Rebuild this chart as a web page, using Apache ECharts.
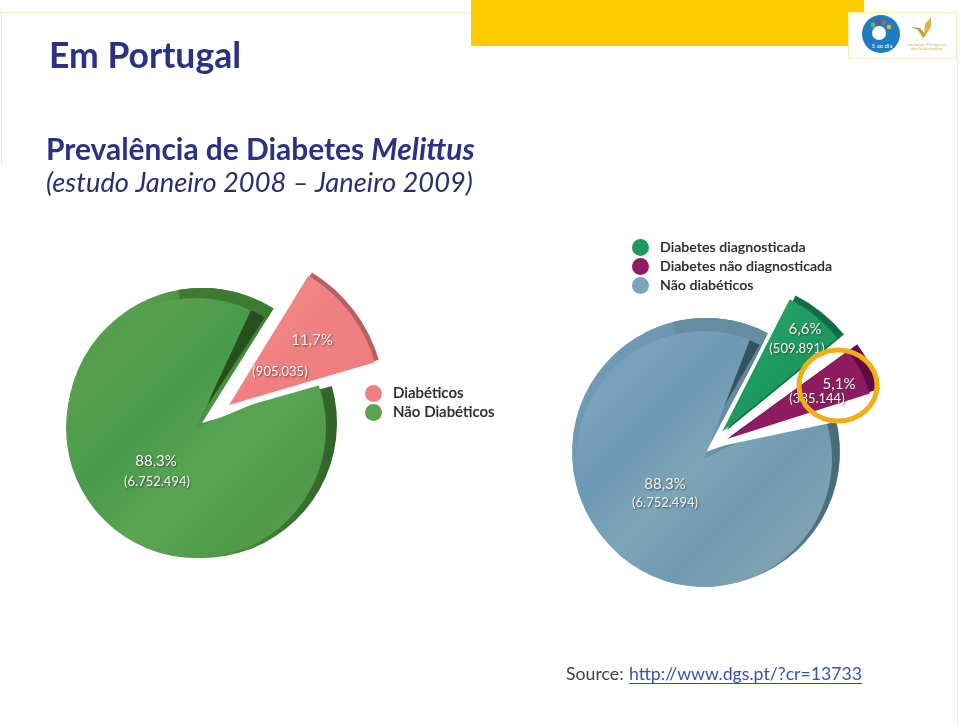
<!DOCTYPE html>
<html><head><meta charset="utf-8">
<style>html,body{margin:0;padding:0;background:#fff}#c{width:960px;height:725px}</style>
<script src="https://cdn.jsdelivr.net/npm/echarts@6/dist/echarts.min.js"></script>
</head><body><div id="c"></div>
<script>
const leftNames = ['Diabéticos', 'Não Diabéticos'];
const leftShares = [11.7, 88.3];
const leftLabels = [['11,7%', '(905.035)'], ['88,3%', '(6.752.494)']];
const rightNames = ['Diabetes diagnosticada', 'Diabetes não diagnosticada', 'Não diabéticos'];
const rightShares = [6.6, 5.1, 88.3];
const rightLabels = [['6,6%', '(509.891)'], ['5,1%', '(385.144)'], ['88,3%', '(6.752.494)']];
const headline = 'Em Portugal';
const subBold = 'Prevalência de Diabetes ';
const subItalic = 'Melittus';
const subPeriod = '(estudo Janeiro 2008 – Janeiro 2009)';
const sourceLabel = 'Source:';
const sourceLink = 'http://www.dgs.pt/?cr=13733';

const NONE = 'rgba(0,0,0,0)';
const grad = (x2, y2, stops) => ({type:'linear', x:0, y:0, x2, y2,
  colorStops: stops.map((c,i)=>({offset:i/(stops.length-1), color:c}))});
function pie(center, r, start, values, names, colors, clockwise, inner) {
  return {type:'pie', center, radius:[inner||0,r], startAngle:start, clockwise:clockwise!==false,
    silent:true, animation:false, label:{show:false}, labelLine:{show:false},
    emphasis:{disabled:true}, sort:null,
    data: values.map((v,i)=>({value:v, name:names[i], itemStyle:{color:colors[i]}}))};
}
const only = (values, idx, color) => values.map((_,i)=> i===idx ? color : NONE);

const lS = leftShares, lN = leftNames;
const rS = rightShares, rN = rightNames;
const rGap = [rS[0]+rS[1], rS[2]];
const rGapN = [rN[0], rN[2]];

const greenFace = grad(1,1,['#4c9646','#57a04d','#4a9a4c','#5aa552','#4f9a48','#5c9f55']);
const blueFace = grad(1,1,['#5f8ea9','#7ba3bd','#6d98b3','#7ea6b9','#6f9ab2','#7fa2b2','#648fae']);
const greenRim = '#3f7a33', blueRim = '#668ca0';

const series = [
  // left pie: rim, cut face, rim over the cut, top face, gap, exploded slice
  pie([202,423],135,58,lS,lN,[NONE,grad(1,0,['#55a04c','#55a04c','#4f9648','#3f7d34','#2f6328'])]),
  pie([187,437],145,57,lS,lN,['#26501c',NONE],false),
  pie([202,423],135,72,lS,lN,[grad(1,0,['#55a04c','#3f7a33']),NONE],false),
  pie([202,423],135,58,lS,lN,[greenRim,NONE],false,123),
  pie([196,428],130,65,lS,lN,[NONE,greenFace]),
  pie([208,417],175,58,lS,lN,['#ffffff',NONE]),
  pie([232,403],153,58.5,lS,lN,['#b85f60',NONE]),
  pie([229,405],152,58.5,lS,lN,[grad(1,1,['#f59088','#f08080','#ee7c7c']),NONE]),
  // right pie
  pie([706,452],134,62,rGap,rGapN,[NONE,grad(1,0,['#6f9ab3','#6f9ab3','#6a93a8','#5a8090','#476a75'])]),
  pie([692,462],138,60,rGap,rGapN,['#35525f',NONE],false),
  pie([706,452],134,75,rGap,rGapN,[grad(1,0,['#6f9ab3',blueRim]),NONE],false),
  pie([706,452],134,62,rGap,rGapN,[blueRim,NONE],false,120),
  pie([704,459],128,69,rGap,rGapN,[NONE,blueFace]),
  pie([712,448],160,64,rGap,rGapN,['#ffffff',NONE]),
  pie([712,448],160,54,rGap,rGapN,['#ffffff',NONE]),
  pie([727,430],151,63,rS,rN,only(rS,0,'#0f6e46')),
  pie([722,432],149,63,rS,rN,only(rS,0,grad(1,1,['#2ea86c','#1d9a5f','#1a8f58']))),
  pie([731,436],156,36+rS[0]*3.6,rS,rN,only(rS,1,'#5e0a44')),
  pie([727,439],150,36+rS[0]*3.6,rS,rN,only(rS,1,'#8e1b5f'))
];

const lightText = (x,y,t,size,weight) => ({type:'text', x, y, z:20, silent:true,
  style:{text:t, x:0, y:0, fill:'#f4f4f0', font:(weight||'normal')+' '+size+'px Lato',
    align:'center', verticalAlign:'middle', textShadowColor:'rgba(40,40,40,.75)', textShadowBlur:2, textShadowOffsetX:1, textShadowOffsetY:1}});
const line = (x1,y1,x2,y2,c) => ({type:'line', z:1, silent:true, shape:{x1,y1,x2,y2}, style:{stroke:c||'#f4ecb0', lineWidth:1}});

const graphic = [
  {type:'rect', z:2, silent:true, shape:{x:471,y:0,width:393,height:46}, style:{fill:'#ffcc00'}},
  line(0,12.5,471,12.5), line(1.5,12,1.5,166),
  {type:'rect', z:3, silent:true, shape:{x:848.5,y:12.5,width:108,height:46}, style:{fill:'#fff',stroke:'#f4ecb0',lineWidth:1}},
  line(957.5,58,957.5,725),
  {type:'circle', z:4, silent:true, shape:{cx:881,cy:34,r:19}, style:{fill:'#1f7dbd'}},
  {type:'circle', z:5, silent:true, shape:{cx:879,cy:33,r:7}, style:{fill:'#fff'}},
  {type:'circle', z:5, silent:true, shape:{cx:873,cy:25,r:2.2}, style:{fill:'#8ab13c'}},
  {type:'circle', z:5, silent:true, shape:{cx:878,cy:22,r:2.2}, style:{fill:'#a23a86'}},
  {type:'circle', z:5, silent:true, shape:{cx:884,cy:23,r:2.2}, style:{fill:'#e0503a'}},
  {type:'circle', z:5, silent:true, shape:{cx:889,cy:27,r:2.2}, style:{fill:'#f0b030'}},
  {type:'text', z:5, silent:true, x:882, y:46, style:{text:'5 ao dia', fill:'#fff', font:'6px Lato', align:'center', verticalAlign:'middle'}},
  {type:'polygon', z:4, silent:true, shape:{points:[[911,27],[918,30],[923,38],[926,35],[920,28]]}, style:{fill:'#b9a13c'}},
  {type:'polygon', z:4, silent:true, shape:{points:[[924,34],[925,24],[931,17],[931,27],[926,35]]}, style:{fill:'#d8b94a'}},
  {type:'text', z:4, silent:true, x:927, y:45, style:{text:'Sociedade Portuguesa', fill:'#c9b267', font:'4px Lato', align:'center', verticalAlign:'middle'}},
  {type:'text', z:4, silent:true, x:927, y:49, style:{text:'dos Nutricionistas', fill:'#c9b267', font:'4px Lato', align:'center', verticalAlign:'middle'}},

  lightText(312,340,leftLabels[0][0],15),
  lightText(280,372,leftLabels[0][1],13),
  lightText(156,461,leftLabels[1][0],15),
  lightText(157,482,leftLabels[1][1],13),
  lightText(805,329,rightLabels[0][0],15),
  lightText(797,349,rightLabels[0][1],13),
  lightText(839,384,rightLabels[1][0],15),
  lightText(817,399,rightLabels[1][1],13),
  lightText(665,484,rightLabels[2][0],15),
  lightText(665,503,rightLabels[2][1],13),
  {type:'ellipse', z:25, silent:true, shape:{cx:838,cy:385.5,rx:39,ry:35.5}, style:{fill:NONE,stroke:'#f2ad12',lineWidth:5}},

  {type:'text', z:10, silent:true, x:566, y:674, style:{text:sourceLabel, fill:'#404040', font:'17.7px Lato', verticalAlign:'middle'}},
  {type:'text', z:10, silent:true, x:629, y:674, style:{text:sourceLink, fill:'#3a54a4', font:'17.7px Lato', verticalAlign:'middle'}},
  line(629,683.5,862,683.5,'#3a54a4')
];

const legendText = size => ({fontFamily:'Lato', fontSize:size, fontWeight:600, color:'#2c2c2c', padding:[0,0,0,6],
  textShadowColor:'rgba(0,0,0,.25)', textShadowBlur:1});
const option = {
  backgroundColor:'#ffffff', animation:false,
  title:[
    {text:headline, left:44, top:34, textStyle:{fontFamily:'Lato', fontWeight:'bold', fontSize:35.5, color:'#2b3183'}},
    {text:'{a|'+subBold+'}{b|'+subItalic+'}', left:41, top:130, textStyle:{rich:{
      a:{fontFamily:'Lato', fontWeight:'bold', fontSize:29.9, color:'#2b3183'},
      b:{fontFamily:'Lato', fontWeight:'bold', fontStyle:'italic', fontSize:29.9, color:'#2b3183'}}}},
    {text:subPeriod, left:41, top:165, textStyle:{fontFamily:'Lato', fontWeight:'normal', fontStyle:'italic', fontSize:27.3, color:'#2a2e70'}}
  ],
  legend:[
    {orient:'vertical', left:365, top:385, icon:'circle', itemWidth:17, itemHeight:17, itemGap:2, selectedMode:false,
     padding:0, textStyle:legendText(15),
     data:[{name:lN[0], itemStyle:{color:'#f08080'}},{name:lN[1], itemStyle:{color:'#5aa24e'}}]},
    {orient:'vertical', left:632, top:239, icon:'circle', itemWidth:17, itemHeight:17, itemGap:2, selectedMode:false,
     padding:0, textStyle:legendText(14.2),
     data:[{name:rN[0], itemStyle:{color:'#1d9a5f'}},{name:rN[1], itemStyle:{color:'#8e1b5f'}},{name:rN[2], itemStyle:{color:'#7ba3bd'}}]}
  ],
  series, graphic
};
echarts.init(document.getElementById('c'),null,{renderer:'canvas'}).setOption(option);
</script></body></html>
